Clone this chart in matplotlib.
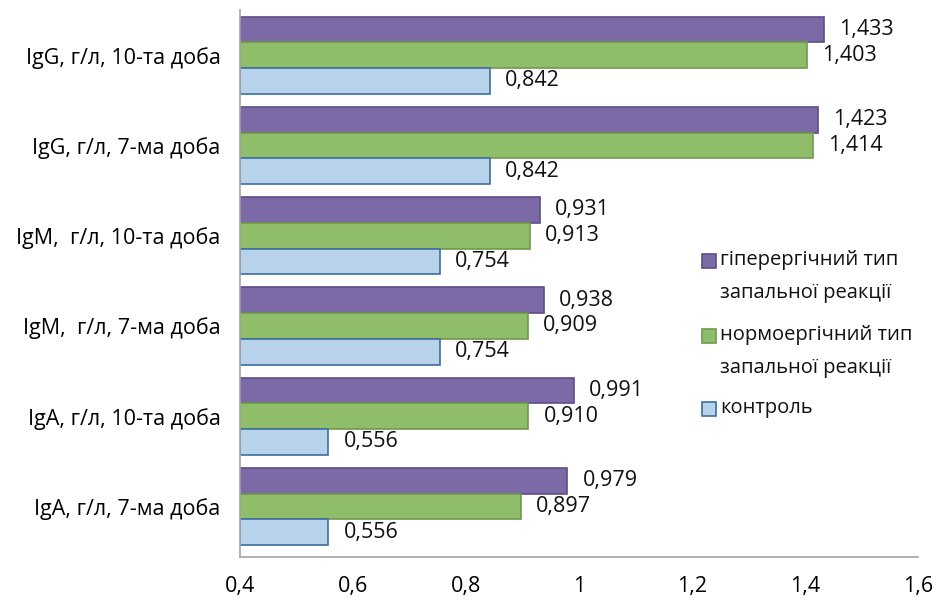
import numpy as np
import matplotlib
matplotlib.use('Agg')
import matplotlib.pyplot as plt
from matplotlib.patches import Rectangle

plt.rcParams['font.family'] = ['Open Sans', 'DejaVu Sans']

# categories from bottom to top
categories = ['IgA, г/л, 7-ма доба', 'IgA, г/л, 10-та доба',
              'IgM,  г/л, 7-ма доба', 'IgM,  г/л, 10-та доба',
              'IgG, г/л, 7-ма доба', 'IgG, г/л, 10-та доба']
hyper = [0.979, 0.991, 0.938, 0.931, 1.423, 1.433]
normo = [0.897, 0.910, 0.909, 0.913, 1.414, 1.403]
control = [0.556, 0.556, 0.754, 0.754, 0.842, 0.842]
series_names = ['гіперергічний тип\nзапальної реакції',
                'нормоергічний тип\nзапальної реакції',
                'контроль']
xticks = [0.4, 0.6, 0.8, 1.0, 1.2, 1.4, 1.6]

fills = ['#7B6AA6', '#8FBD69', '#B9D2EC']
edges = ['#5E4D88', '#6F9A4C', '#3B6F9F']

W, H = 936, 601
fig = plt.figure(figsize=(W / 100, H / 100), dpi=100)
ax = fig.add_axes([0.2564, 0.0732, 0.7244, 0.9102])

y = np.arange(len(categories))
h = 0.285
offsets = [h, 0, -h]
for vals, off, fc, ec in zip([hyper, normo, control], offsets, fills, edges):
    widths = [v - 0.4 for v in vals]
    bars = ax.barh(y + off, widths, left=0.4, height=h, color=fc,
                   edgecolor=ec, linewidth=1.2)
    for b, v in zip(bars, vals):
        ax.annotate(('%.3f' % v).replace('.', ','),
                    (v, b.get_y() + b.get_height() / 2),
                    xytext=(11, 0), textcoords='offset points',
                    va='center', ha='left', fontsize=15.5, color='#111111')

ax.set_xlim(0.4, 1.6)
ax.set_ylim(-0.56, 5.5)
ax.set_xticks(xticks)
ax.set_xticklabels([('%g' % t).replace('.', ',') for t in xticks], fontsize=15.5)
ax.set_yticks(y)
ax.set_yticklabels(categories, fontsize=15.5)
ax.tick_params(length=0, pad=14)
ax.tick_params(axis='x', pad=14)
for s in ['top', 'right']:
    ax.spines[s].set_visible(False)
for s in ['left', 'bottom']:
    ax.spines[s].set_color('#A6A6A6')
    ax.spines[s].set_linewidth(1.2)

# legend: square key next to the first line of each label
key_rows = [261, 336, 409]
for name, fc, ec, row in zip(series_names, fills, edges, key_rows):
    fig.patches.append(Rectangle((702 / W, 1 - (row + 7) / H), 14 / W, 14 / H,
                                 transform=fig.transFigure, facecolor=fc,
                                 edgecolor=ec, linewidth=1.2))
    fig.text(720 / W, 1 - (row - 11) / H, name, fontsize=14.5, va='top',
             ha='left', linespacing=1.85, color='#111111')

fig.savefig('out.png', dpi=100)
